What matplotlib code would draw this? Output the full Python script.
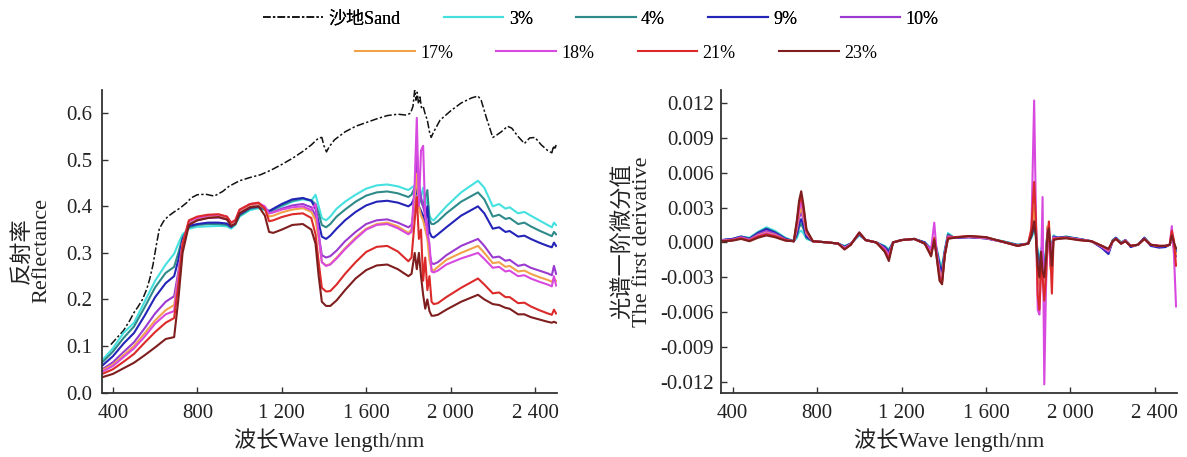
import matplotlib
matplotlib.use("Agg")
import matplotlib.pyplot as plt
from matplotlib.lines import Line2D
from matplotlib.ticker import FuncFormatter, MultipleLocator
import numpy as np

plt.rcParams['font.family'] = ['Liberation Serif', 'Noto Sans CJK SC']
plt.rcParams['axes.unicode_minus'] = False

# ---------------- reflectance spectra ----------------
sand_wl = [390, 420, 450, 480, 500, 520, 540, 560, 575, 590,
           605, 620, 640, 660, 690, 720, 750, 770, 800, 840,
           880, 920, 950, 1000, 1050, 1100, 1150, 1200, 1250, 1300,
           1340, 1375, 1390, 1400, 1412, 1425, 1450, 1500, 1550, 1600,
           1650, 1700, 1750, 1790, 1810, 1822, 1830, 1836, 1842, 1848,
           1855, 1862, 1870, 1880, 1890, 1900, 1908, 1920, 1950, 2000,
           2050, 2100, 2130, 2145, 2170, 2200, 2215, 2240, 2270, 2290,
           2320, 2350, 2375, 2400, 2430, 2460, 2480, 2488, 2494, 2500]
sand_refl = [.103, .118, .133, .155, .172, .185, .200, .222, .245, .275,
             .315, .352, .368, .378, .388, .397, .408, .418, .425, .426,
             .422, .432, .443, .455, .462, .468, .478, .490, .503, .518,
             .532, .547, .548, .530, .517, .528, .543, .560, .572, .580,
             .588, .595, .598, .596, .600, .615, .650, .628, .645, .620,
             .635, .612, .615, .598, .585, .560, .548, .560, .585, .605,
             .622, .633, .637, .628, .590, .548, .552, .560, .572, .568,
             .550, .535, .547, .548, .532, .520, .515, .530, .522, .532]

wl = [350, 400, 450, 500, 550, 600, 650, 690, 710, 730,
      760, 800, 850, 900, 940, 960, 980, 1000, 1050, 1090,
      1120, 1140, 1160, 1200, 1250, 1300, 1340, 1360, 1375, 1390,
      1410, 1430, 1460, 1500, 1550, 1600, 1650, 1700, 1750, 1800,
      1815, 1830, 1840, 1850, 1860, 1870, 1880, 1890, 1900, 1910,
      1920, 1940, 1980, 2050, 2130, 2160, 2200, 2230, 2260, 2280,
      2320, 2350, 2380, 2420, 2460, 2480, 2490, 2500]

refl_3 = [.070, .095, .128, .150, .195, .240, .275, .298, .320, .340,
          .352, .356, .357, .358, .357, .352, .360, .378, .392, .396,
          .392, .388, .392, .400, .410, .415, .412, .425, .400, .375,
          .370, .378, .395, .410, .425, .438, .445, .447, .443, .435,
          .440, .445, .440, .430, .420, .440, .400, .420, .380, .372,
          .370, .380, .400, .430, .455, .440, .400, .405, .395, .398,
          .385, .388, .380, .370, .360, .355, .365, .360]
refl_4 = [.065, .088, .117, .142, .183, .226, .257, .270, .300, .333,
          .355, .360, .362, .362, .360, .355, .362, .380, .395, .398,
          .393, .388, .393, .402, .412, .417, .413, .405, .385, .360,
          .355, .362, .378, .393, .410, .423, .430, .432, .428, .420,
          .425, .440, .430, .420, .410, .400, .420, .435, .370, .362,
          .362, .368, .385, .410, .430, .415, .378, .382, .373, .375,
          .362, .365, .357, .348, .340, .336, .345, .340]
refl_9 = [.058, .078, .105, .128, .165, .205, .235, .250, .285, .328,
          .358, .362, .365, .365, .363, .356, .365, .383, .397, .400,
          .395, .390, .395, .405, .415, .418, .412, .395, .365, .335,
          .330, .337, .352, .370, .388, .402, .410, .412, .408, .400,
          .405, .420, .440, .400, .390, .380, .360, .400, .345, .335,
          .333, .340, .355, .380, .400, .385, .352, .355, .345, .347,
          .335, .337, .330, .322, .315, .312, .322, .315]
refl_10 = [.050, .065, .087, .108, .138, .170, .195, .207, .260, .320,
           .365, .370, .375, .376, .372, .362, .368, .388, .402, .405,
           .398, .385, .388, .395, .402, .405, .398, .380, .340, .295,
           .290, .293, .305, .325, .345, .362, .370, .372, .365, .355,
           .360, .400, .520, .450, .420, .400, .380, .360, .300, .278,
           .276, .280, .295, .315, .330, .315, .290, .292, .283, .285,
           .272, .275, .268, .262, .256, .252, .272, .255]
refl_17 = [.048, .060, .080, .100, .127, .155, .177, .188, .250, .320,
           .367, .373, .377, .378, .373, .363, .368, .390, .403, .405,
           .395, .378, .380, .387, .393, .396, .388, .370, .330, .280,
           .273, .276, .290, .310, .333, .352, .362, .365, .357, .343,
           .350, .420, .470, .400, .380, .370, .350, .330, .285, .265,
           .262, .270, .285, .300, .315, .300, .278, .280, .270, .272,
           .260, .262, .255, .248, .242, .238, .245, .240]
refl_18 = [.045, .057, .076, .095, .120, .148, .168, .175, .245, .318,
           .368, .375, .380, .382, .378, .365, .370, .392, .405, .407,
           .400, .385, .387, .393, .398, .400, .392, .405, .340, .280,
           .272, .275, .288, .308, .330, .350, .360, .362, .353, .340,
           .345, .450, .590, .400, .520, .530, .380, .340, .320, .260,
           .258, .262, .275, .288, .300, .287, .268, .270, .260, .262,
           .250, .252, .245, .238, .232, .228, .250, .230]
refl_21 = [.040, .050, .066, .083, .107, .130, .150, .160, .230, .318,
           .370, .378, .382, .383, .378, .365, .370, .393, .405, .408,
           .395, .368, .370, .377, .383, .385, .375, .340, .280, .225,
           .217, .218, .232, .255, .280, .302, .313, .315, .303, .282,
           .290, .370, .420, .330, .350, .240, .290, .220, .250, .195,
           .190, .192, .205, .225, .245, .232, .213, .215, .205, .205,
           .192, .193, .185, .177, .170, .167, .178, .170]
refl_23 = [.033, .040, .052, .064, .080, .097, .115, .119, .200, .300,
           .360, .370, .375, .377, .372, .358, .362, .385, .398, .400,
           .380, .345, .343, .350, .360, .362, .350, .320, .250, .195,
           .186, .186, .198, .220, .245, .263, .273, .275, .265, .250,
           .255, .300, .265, .300, .250, .210, .180, .200, .175, .165,
           .165, .167, .178, .195, .210, .200, .190, .188, .182, .180,
           .168, .168, .162, .157, .152, .150, .152, .150]

# ---------------- first derivative (units of 1e-3 per nm) ----------------
dwl = [350, 400, 440, 480, 520, 560, 600, 650, 690, 705,
       715, 725, 735, 750, 780, 850, 900, 930, 960, 1000,
       1030, 1080, 1120, 1140, 1160, 1200, 1260, 1310, 1340, 1355,
       1365, 1380, 1392, 1405, 1420, 1450, 1520, 1600, 1680, 1750,
       1800, 1815, 1828, 1836, 1845, 1853, 1861, 1868, 1876, 1884,
       1892, 1898, 1905, 1912, 1920, 1940, 1980, 2040, 2100, 2150,
       2180, 2200, 2215, 2240, 2260, 2285, 2320, 2350, 2380, 2420,
       2450, 2470, 2480, 2490, 2500]

deriv_3 = [0.2, 0.3, 0.5, 0.4, 0.9, 1.3, 1.0, 0.4, 0.1, 0.4,
           0.9, 1.0, 0.8, 0.3, 0.1, 0.0, -0.1, -0.3, -0.1, 0.6,
           0.2, 0.0, -0.3, -0.6, 0.0, 0.2, 0.3, 0.0, -0.5, 0.2,
           -0.4, -1.6, -2.0, -0.6, 0.8, 0.4, 0.5, 0.4, 0.1, -0.2,
           -0.1, 0.4, 1.0, 0.6, -0.8, -1.5, -0.5, -1.2, -2.0, -0.6,
           0.8, 0.6, -0.8, -0.2, 0.6, 0.4, 0.5, 0.3, 0.1, -0.4,
           -0.8, 0.2, 0.4, 0.0, 0.2, -0.3, -0.2, 0.4, -0.2, -0.4,
           -0.3, -0.2, 0.3, -0.3, -0.5]
deriv_4 = [0.2, 0.3, 0.5, 0.35, 0.85, 1.2, 0.9, 0.35, 0.1, 0.6,
           1.3, 1.6, 1.2, 0.4, 0.1, 0.0, -0.1, -0.35, -0.1, 0.7,
           0.2, 0.0, -0.35, -0.7, 0.0, 0.2, 0.3, 0.0, -0.6, 0.1,
           -0.5, -1.8, -2.3, -0.7, 0.7, 0.4, 0.45, 0.35, 0.1, -0.2,
           -0.1, 0.5, 1.2, 0.8, -1.0, -2.0, -0.8, -1.5, -2.5, -0.8,
           1.0, 0.8, -1.2, -0.3, 0.5, 0.4, 0.5, 0.3, 0.1, -0.4,
           -0.85, 0.2, 0.4, 0.0, 0.2, -0.3, -0.2, 0.4, -0.2, -0.35,
           -0.3, -0.2, 0.3, -0.3, -0.6]
deriv_9 = [0.2, 0.3, 0.5, 0.3, 0.8, 1.15, 0.85, 0.3, 0.1, 0.8,
           1.6, 2.0, 1.5, 0.5, 0.1, 0.0, -0.1, -0.4, -0.1, 0.7,
           0.2, 0.0, -0.4, -0.8, 0.0, 0.2, 0.3, 0.0, -0.7, 0.1,
           -0.6, -2.0, -2.5, -0.8, 0.6, 0.4, 0.45, 0.35, 0.05, -0.25,
           -0.1, 0.6, 1.5, 1.0, -1.5, -2.8, -1.0, -2.0, -3.0, -1.0,
           1.2, 0.9, -1.5, -0.4, 0.5, 0.4, 0.45, 0.3, 0.1, -0.5,
           -1.0, 0.1, 0.4, -0.1, 0.2, -0.4, -0.2, 0.4, -0.3, -0.45,
           -0.4, -0.2, 0.4, -0.4, -0.8]
deriv_10 = [0.2, 0.25, 0.45, 0.25, 0.7, 1.0, 0.75, 0.25, 0.1, 1.1,
            2.1, 2.6, 2.0, 0.7, 0.1, 0.0, -0.1, -0.45, -0.15, 0.8,
            0.2, 0.0, -0.5, -1.0, 0.0, 0.2, 0.3, -0.1, -0.9, 0.2,
            -0.8, -2.4, -2.9, -0.9, 0.5, 0.4, 0.45, 0.35, 0.05, -0.25,
            -0.1, 0.8, 2.5, 1.5, -2.5, -3.5, -1.5, -2.5, -3.5, -1.5,
            1.3, 1.0, -2.0, -0.5, 0.4, 0.4, 0.4, 0.25, 0.1, -0.4,
            -0.8, 0.1, 0.35, -0.1, 0.2, -0.3, -0.2, 0.35, -0.2, -0.35,
            -0.3, -0.2, 0.6, -0.5, -1.2]
deriv_17 = [0.15, 0.2, 0.4, 0.2, 0.6, 0.85, 0.65, 0.2, 0.1, 1.3,
            2.4, 3.0, 2.3, 0.8, 0.1, 0.0, -0.1, -0.5, -0.15, 0.8,
            0.2, 0.0, -0.6, -1.2, 0.0, 0.2, 0.3, -0.1, -1.0, 0.3,
            -0.8, -2.6, -3.1, -1.0, 0.5, 0.45, 0.5, 0.4, 0.05, -0.3,
            -0.1, 0.9, 3.0, 1.5, -2.8, -3.8, -1.5, -2.5, -3.8, -1.5,
            1.4, 1.0, -2.3, -0.6, 0.4, 0.35, 0.4, 0.25, 0.1, -0.35,
            -0.7, 0.1, 0.3, -0.1, 0.15, -0.3, -0.2, 0.3, -0.2, -0.3,
            -0.3, -0.2, 0.5, -0.4, -1.0]
deriv_18 = [0.15, 0.2, 0.4, 0.2, 0.55, 0.8, 0.6, 0.2, 0.1, 1.5,
            2.8, 3.5, 2.6, 0.9, 0.1, 0.0, -0.1, -0.5, -0.15, 0.85,
            0.2, 0.0, -0.6, -1.2, 0.0, 0.2, 0.3, -0.1, -0.6, 1.7,
            -0.5, -2.8, -3.3, -1.0, 0.5, 0.45, 0.5, 0.4, 0.05, -0.3,
            -0.1, 1.0, 12.2, 3.0, -5.8, -6.2, -2.0, 3.9, -12.2, -4.0,
            1.0, 0.8, -2.0, -0.5, 0.4, 0.35, 0.4, 0.25, 0.1, -0.35,
            -0.7, 0.1, 0.3, -0.1, 0.15, -0.3, -0.2, 0.3, -0.2, -0.3,
            -0.3, -0.2, 1.4, -1.0, -5.5]
deriv_21 = [0.1, 0.2, 0.35, 0.15, 0.5, 0.7, 0.55, 0.2, 0.1, 1.8,
            3.3, 4.0, 3.0, 1.0, 0.1, 0.0, -0.1, -0.6, -0.2, 0.85,
            0.2, 0.0, -0.7, -1.4, 0.0, 0.2, 0.3, -0.1, -1.1, 0.4,
            -1.0, -3.0, -3.4, -1.1, 0.4, 0.45, 0.55, 0.45, 0.05, -0.3,
            -0.1, 1.2, 5.2, 2.0, -4.5, -5.8, -2.0, -3.0, -5.0, -3.0,
            0.5, 1.8, -1.0, -4.4, 0.3, 0.35, 0.4, 0.2, 0.1, -0.3,
            -0.6, 0.1, 0.3, -0.1, 0.1, -0.3, -0.2, 0.3, -0.2, -0.3,
            -0.3, -0.2, 1.0, 0.2, -2.0]
deriv_23 = [0.1, 0.15, 0.3, 0.1, 0.4, 0.6, 0.45, 0.15, 0.1, 2.0,
            3.6, 4.4, 3.3, 1.1, 0.1, 0.0, -0.1, -0.6, -0.2, 0.85,
            0.2, 0.0, -0.8, -1.6, 0.0, 0.2, 0.3, -0.1, -1.2, 0.2,
            -1.1, -3.3, -3.6, -1.1, 0.3, 0.4, 0.55, 0.45, 0.05, -0.3,
            -0.1, 0.6, 1.8, 0.5, -2.0, -3.0, -0.8, -2.5, -3.0, -1.5,
            0.8, 1.2, -0.6, -2.0, 0.2, 0.3, 0.35, 0.2, 0.1, -0.3,
            -0.55, 0.1, 0.3, -0.1, 0.1, -0.3, -0.2, 0.3, -0.2, -0.3,
            -0.3, -0.2, 0.6, 0.0, -0.5]

labels = ['3%', '4%', '9%', '10%', '17%', '18%', '21%', '23%']
colors = ['#45E0E0', '#2F8A8A', '#2424B8', '#9A3AD0',
          '#F2A24A', '#D84ADF', '#DC2A2A', '#7E1E1E']
refl_series = [refl_3, refl_4, refl_9, refl_10, refl_17, refl_18, refl_21, refl_23]
deriv_series = [deriv_3, deriv_4, deriv_9, deriv_10, deriv_17, deriv_18, deriv_21, deriv_23]

sand_label = '沙地Sand'
sand_color = '#111111'
sand_dash = (0, (5, 1.5, 1.5, 1.5))

x_ticks = [400, 800, 1200, 1600, 2000, 2400]
xlabel = '波长Wave length/nm'

fig = plt.figure(figsize=(11.87, 4.57), dpi=100)
ax1 = fig.add_axes([0.0859, 0.1411, 0.3831, 0.662])
ax2 = fig.add_axes([0.6074, 0.1411, 0.3839, 0.662])

lw = 1.5
ax1.plot(sand_wl, sand_refl, color=sand_color, lw=1.1, linestyle=sand_dash)
for vals, c in zip(refl_series, colors):
    ax1.plot(wl, vals, color=c, lw=lw)

for vals, c in zip(deriv_series, colors):
    ax2.plot(dwl, np.asarray(vals) * 1e-3, color=c, lw=lw)


def spaced_thousands(v, pos):
    s = f"{int(round(v)):d}"
    if len(s) > 3:
        s = s[:-3] + ' ' + s[-3:]
    return s


def fixed(decimals):
    def fmt(v, pos):
        v = round(v, decimals)
        if v == 0:
            v = 0.0
        return f"{v:.{decimals}f}"
    return FuncFormatter(fmt)


for ax in (ax1, ax2):
    for side in ('top', 'right'):
        ax.spines[side].set_visible(False)
    for side in ('left', 'bottom'):
        ax.spines[side].set_linewidth(1.3)
        ax.spines[side].set_color('#333333')
    ax.set_xticks(x_ticks)
    ax.xaxis.set_major_formatter(FuncFormatter(spaced_thousands))
    ax.tick_params(axis='both', direction='in', length=4, width=1.0,
                   colors='#333333', labelcolor='#222222', labelsize=15)
    ax.tick_params(axis='x', pad=8)
    ax.set_xlabel(xlabel, fontsize=16, color='#222222')
    ax.xaxis.set_label_coords(0.5, -0.157)
    ax.xaxis.label.set_va('center')

ax1.set_xlim(348, 2503)
ax1.set_ylim(0, 0.65)
ax1.yaxis.set_major_locator(MultipleLocator(0.1))
ax1.yaxis.set_major_formatter(fixed(1))
ax1.tick_params(axis='y', pad=7)
ax1.set_ylabel('反射率\nReflectance', fontsize=16, color='#222222', linespacing=0.95)
ax1.yaxis.set_label_coords(-0.154, 0.47)
ax1.yaxis.label.set_va('center')

ax2.set_xlim(345, 2503)
ax2.set_ylim(-0.0129, 0.0131)
ax2.set_yticks(np.arange(-0.012, 0.0121, 0.003))
ax2.yaxis.set_major_formatter(fixed(3))
ax2.tick_params(axis='y', pad=5)
ax2.set_ylabel('光谱一阶微分值\nThe first derivative', fontsize=16, color='#222222',
               linespacing=0.95)
ax2.yaxis.set_label_coords(-0.195, 0.5)
ax2.yaxis.label.set_va('center')

# two-row legend across the top of the figure
row1 = [Line2D([], [], color=sand_color, lw=1.1, linestyle=sand_dash)]
row1 += [Line2D([], [], color=c, lw=lw) for c in colors[:4]]
row2 = [Line2D([], [], color=c, lw=lw) for c in colors[4:]]
legend_kw = dict(loc='center', frameon=False, fontsize=13, handlelength=3.3,
                 handletextpad=0.3, columnspacing=2.4, borderpad=0.0)
leg1 = fig.legend(row1, [sand_label] + labels[:4], ncol=5,
                  bbox_to_anchor=(601 / 1187, 1 - 19 / 457), **legend_kw)
fig.add_artist(leg1)
fig.legend(row2, labels[4:], ncol=4,
           bbox_to_anchor=(616 / 1187, 1 - 53 / 457), **legend_kw)

fig.savefig('out.png', dpi=100)
